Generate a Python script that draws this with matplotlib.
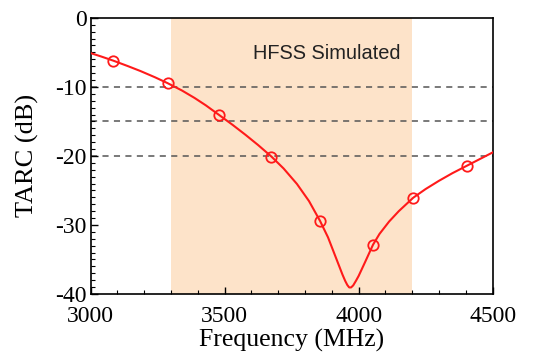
import matplotlib
matplotlib.use("Agg")
import matplotlib.pyplot as plt
from matplotlib.ticker import MultipleLocator

plt.rcParams['axes.unicode_minus'] = False

# TARC curve (MHz, dB)
freq = [3000, 3040, 3085, 3140, 3186, 3240, 3287, 3340, 3388, 3430, 3479, 3530,
        3578, 3625, 3675, 3720, 3770, 3815, 3856, 3886, 3916, 3930, 3940, 3950,
        3958, 3965, 3972, 3980, 3990, 4000, 4012, 4024, 4054, 4078, 4114, 4150,
        4204, 4250, 4300, 4350, 4405, 4460, 4500]
tarc = [-5.1, -5.6, -6.2, -7.0, -7.7, -8.6, -9.45, -10.5, -11.6, -12.67, -14.05, -15.5,
        -16.94, -18.42, -20.1, -21.81, -24.06, -26.54, -29.4, -31.8, -34.8, -36.2, -37.2, -38.1,
        -38.7, -39.05, -39.05, -38.75, -38.1, -37.4, -36.4, -35.4, -32.85, -31.3, -29.5, -28.0,
        -26.05, -24.8, -23.6, -22.5, -21.4, -20.3, -19.5]

marker_freq = [3085, 3287, 3479, 3675, 3856, 4054, 4204, 4405]
marker_tarc = [-6.2, -9.45, -14.05, -20.1, -29.4, -32.85, -26.05, -21.4]

band = (3300, 4200)
ref_levels = [-10, -15, -20]

fig = plt.figure(figsize=(5.36, 3.54), dpi=100)
ax = fig.add_axes([0.169, 0.1695, 0.750, 0.780])

ax.axvspan(band[0], band[1], color='#fde3c9', lw=0, zorder=0)
for lvl in ref_levels:
    ax.axhline(lvl, color='#555555', lw=1.1, ls=(0, (4, 3.5)), zorder=1)

ax.plot(freq, tarc, color='#ff1a1a', lw=1.5, zorder=3, solid_joinstyle='round')
ax.plot(marker_freq, marker_tarc, ls='none', marker='o', ms=7.5, mfc='none',
        mec='#ff1a1a', mew=1.3, zorder=4)

ax.text(3605, -5.2, 'HFSS Simulated', family='Liberation Sans', fontsize=14.4,
        va='center', ha='left', color='#222222')

ax.set_xlim(3000, 4500)
ax.set_ylim(-40, 0)
ax.xaxis.set_major_locator(MultipleLocator(500))
ax.xaxis.set_minor_locator(MultipleLocator(100))
ax.yaxis.set_major_locator(MultipleLocator(10))
ax.yaxis.set_minor_locator(MultipleLocator(1))
ax.tick_params(which='both', direction='in', top=False, right=False)
ax.tick_params(which='major', length=5, width=1)
ax.tick_params(which='minor', length=3, width=0.8)
for lab in ax.get_xticklabels() + ax.get_yticklabels():
    lab.set_family('Liberation Serif')
    lab.set_fontsize(17)
ax.tick_params(axis='x', pad=9)
ax.tick_params(axis='y', pad=3)
for sp in ax.spines.values():
    sp.set_linewidth(1.2)

ax.set_xlabel('Frequency (MHz)', family='Liberation Serif', fontsize=18.5, va='center')
ax.xaxis.set_label_coords(0.5, -0.167)
ax.set_ylabel('TARC (dB)', family='Liberation Serif', fontsize=19, va='center')
ax.yaxis.set_label_coords(-0.156, 0.5)

fig.savefig('out.png', dpi=100)
